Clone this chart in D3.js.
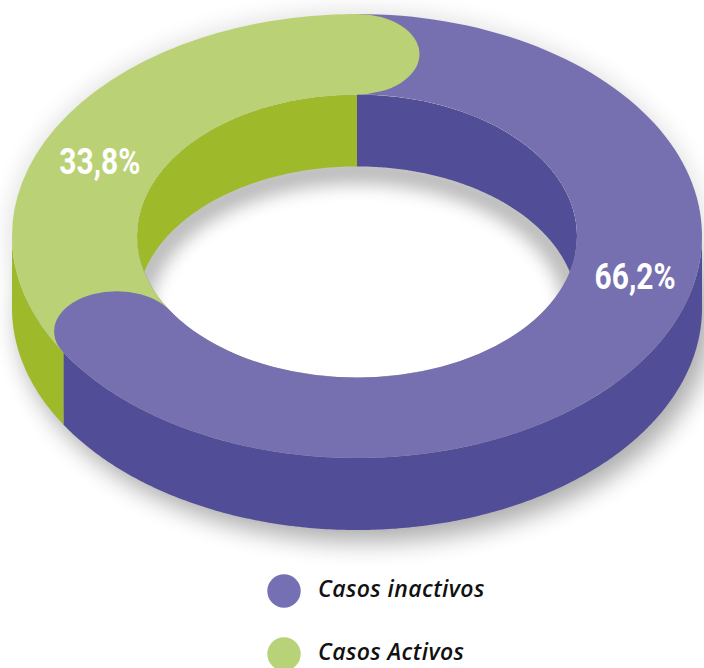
<!DOCTYPE html>
<html><head><meta charset="utf-8">
<script src="https://cdn.jsdelivr.net/npm/d3@7"></script>
<style>html,body{margin:0;padding:0;background:#fff;}svg{display:block;}</style>
</head><body>
<script>
const categories = ["Casos inactivos", "Casos Activos"];
const values = [66.2, 33.8];
const valueLabels = ["66,2%", "33,8%"];
const topColors = ["#7770B0", "#BAD176"];
const sideColors = ["#514D97", "#9EBA2B"];
const legendColors = ["#756FB3", "#B8D278"];

const W = 704, H = 668;
const cx = 357, cy = 236, R = 345, r = 220, k = 0.6435, D = 72;
const midR = (R + r) / 2, halfT = (R - r) / 2;

const svg = d3.select("body").append("svg").attr("width", W).attr("height", H);
const defs = svg.append("defs");
const f1 = defs.append("filter").attr("id", "blur").attr("x", "-20%").attr("y", "-20%").attr("width", "140%").attr("height", "140%");
f1.append("feGaussianBlur").attr("stdDeviation", 9);
const f2 = defs.append("filter").attr("id", "blur2").attr("x", "-20%").attr("y", "-20%").attr("width", "140%").attr("height", "140%");
f2.append("feGaussianBlur").attr("stdDeviation", 12);
defs.append("clipPath").attr("id", "hole").append("ellipse")
  .attr("cx", cx).attr("cy", cy).attr("rx", r).attr("ry", r * k);

const pie = d3.pie().sort(null).value(d => d);
const arcs = pie(values);

function P(a, rad, z) { return [cx + rad * Math.sin(a), cy - rad * k * Math.cos(a) + z]; }
function arcPts(a0, a1, rad, z) {
  const n = Math.max(2, Math.ceil(Math.abs(a1 - a0) / 0.01));
  return d3.range(n + 1).map(i => P(a0 + (a1 - a0) * i / n, rad, z));
}
function wall(a0, a1, rad) {
  return d3.line()([...arcPts(a0, a1, rad, 0), ...arcPts(a1, a0, rad, D)]) + "Z";
}

// shadow
const sh = svg.append("g").attr("filter", "url(#blur2)").attr("opacity", 0.32);
sh.append("ellipse").attr("cx", cx + 8).attr("cy", cy + D + 10).attr("rx", R + 2).attr("ry", R * k + 2).attr("fill", "#000");
sh.append("ellipse").attr("cx", cx).attr("cy", cy).attr("rx", R + 2).attr("ry", R * k + 2).attr("fill", "#000").attr("opacity", 0.4);

// outer front walls
arcs.forEach((d, i) => {
  const s = Math.max(d.startAngle, Math.PI / 2), e = Math.min(d.endAngle, 3 * Math.PI / 2);
  if (s < e) svg.append("path").attr("d", wall(s, e, R)).attr("fill", sideColors[i]);
});

// top face
const g = svg.append("g").attr("transform", `translate(${cx},${cy}) scale(1,${k})`);
const arcGen = d3.arc().innerRadius(r).outerRadius(R);
g.selectAll("path.seg").data(arcs).join("path").attr("class", "seg")
  .attr("d", arcGen).attr("fill", (d, i) => topColors[i]);
g.selectAll("circle.cap").data(arcs).join("circle").attr("class", "cap")
  .attr("cx", d => midR * Math.sin(d.endAngle))
  .attr("cy", d => -midR * Math.cos(d.endAngle))
  .attr("r", halfT).attr("fill", (d, i) => topColors[i]);

// hole
const hole = svg.append("g").attr("clip-path", "url(#hole)");
hole.append("ellipse").attr("cx", cx).attr("cy", cy).attr("rx", r).attr("ry", r * k).attr("fill", "#fff");
hole.append("ellipse").attr("cx", cx).attr("cy", cy + D + 4).attr("rx", r).attr("ry", r * k)
  .attr("fill", "none").attr("stroke", "#000").attr("stroke-width", 26).attr("opacity", 0.28).attr("filter", "url(#blur)");
arcs.forEach((d, i) => {
  [[d.startAngle, d.endAngle], [d.startAngle - 2 * Math.PI, d.endAngle - 2 * Math.PI]].forEach(([a0, a1]) => {
    const s = Math.max(a0, -Math.PI / 2), e = Math.min(a1, Math.PI / 2);
    if (s < e) hole.append("path").attr("d", wall(s, e, r)).attr("fill", sideColors[i]);
  });
});

// value labels
arcs.forEach((d, i) => {
  const a = d.startAngle + 0.44 * (d.endAngle - d.startAngle);
  const [x, y] = P(a, midR, 0);
  svg.append("text").attr("x", x + 5).attr("y", y + 6).attr("text-anchor", "middle")
    .attr("font-family", "Roboto, 'DejaVu Sans Condensed', sans-serif")
    .attr("font-weight", "bold").attr("font-size", 37).attr("fill", "#fff")
    .attr("textLength", 81).attr("lengthAdjust", "spacingAndGlyphs")
    .text(valueLabels[i]);
});

// legend
const lg = svg.append("g");
categories.forEach((c, i) => {
  const y = 591 + i * 63;
  lg.append("circle").attr("cx", 284).attr("cy", y).attr("r", 16.7).attr("fill", legendColors[i]);
  lg.append("text").attr("x", 318).attr("y", y + 6).attr("font-family", "'Open Sans', sans-serif")
    .attr("font-style", "italic").attr("font-weight", 600).attr("font-size", 23)
    .attr("letter-spacing", 0.4).attr("fill", "#111")
    .text(c);
});
</script>
</body></html>
